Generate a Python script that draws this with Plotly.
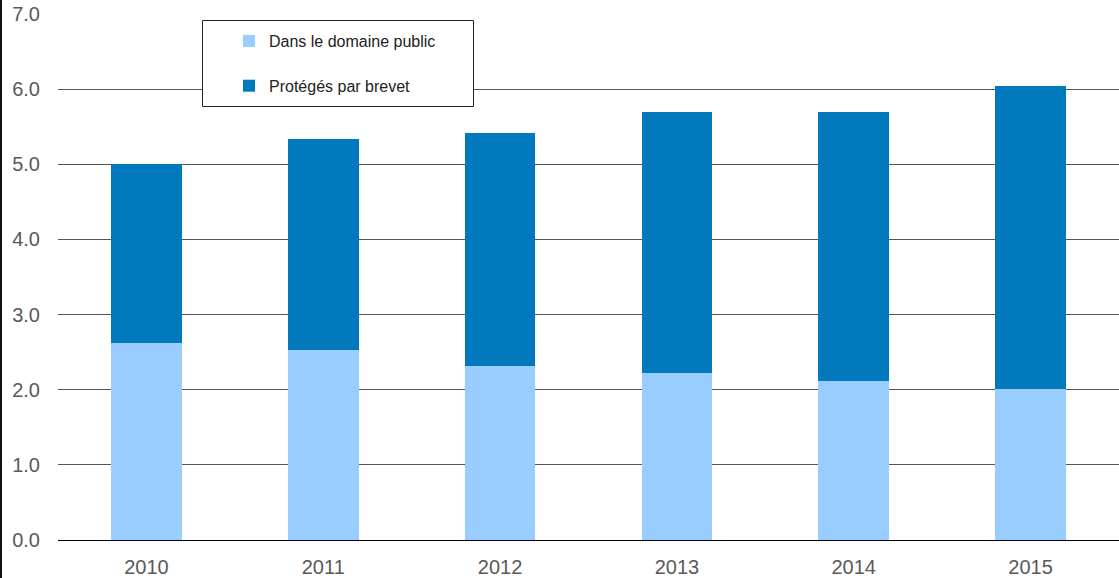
import plotly.graph_objects as go

# Data (billions) by year
years = ["2010", "2011", "2012", "2013", "2014", "2015"]
public_domain = [2.62, 2.53, 2.32, 2.22, 2.11, 2.01]
patented = [2.38, 2.80, 3.09, 3.48, 3.58, 4.03]
y_ticks = [0, 1, 2, 3, 4, 5, 6, 7]
y_tick_text = ["0.0", "1.0", "2.0", "3.0", "4.0", "5.0", "6.0", "7.0"]

W, H = 1119, 578
ML, MR, MT, MB = 58, 0, 14, 38
PW = W - ML - MR
PH = H - MT - MB

FONT = "Liberation Sans, Arial, sans-serif"
LIGHT = "#99CCFF"
DARK = "#0278BD"

fig = go.Figure()
fig.add_trace(go.Bar(x=years, y=public_domain, name="Dans le domaine public",
                     marker=dict(color=LIGHT, line=dict(width=0)), legendgroup="a"))
fig.add_trace(go.Bar(x=years, y=patented, name="Protégés par brevet",
                     marker=dict(color=DARK, line=dict(width=0)), legendgroup="b"))


def px_x(px):
    return (px - ML) / PW


def px_y(py):
    return 1 - (py - MT) / PH


shapes = [
    # legend frame
    dict(type="rect", xref="paper", yref="paper",
         x0=px_x(202.5), x1=px_x(473.5), y0=px_y(106.5), y1=px_y(20.5),
         line=dict(color="#222222", width=1), fillcolor="white", layer="above"),
    # left page rule
    dict(type="line", xref="paper", yref="paper",
         x0=px_x(1), x1=px_x(1), y0=px_y(H), y1=px_y(0),
         line=dict(color="#111111", width=2), layer="above"),
]

fig.update_layout(
    width=W, height=H,
    margin=dict(l=ML, r=MR, t=MT, b=MB, pad=0),
    barmode="stack", bargap=0.6,
    plot_bgcolor="white", paper_bgcolor="white",
    font=dict(family=FONT, color="#595959"),
    shapes=shapes,
    showlegend=True,
    legend=dict(
        x=px_x(229), y=px_y(24), xanchor="left", yanchor="top",
        bgcolor="rgba(0,0,0,0)", borderwidth=0,
        font=dict(family=FONT, size=16, color="#222222"),
        traceorder="grouped", tracegroupgap=21,
    ),
    xaxis=dict(
        showgrid=False, showline=False, zeroline=False,
        tickfont=dict(size=20, color="#595959"), ticks="",
        ticklabelstandoff=13,
    ),
    yaxis=dict(
        range=[0, 7], tickvals=y_ticks, ticktext=y_tick_text,
        showgrid=True, gridcolor="#555555", gridwidth=1,
        zeroline=True, zerolinecolor="#000000", zerolinewidth=1,
        showline=False, ticks="",
        tickfont=dict(size=20, color="#595959"),
        ticklabelstandoff=17,
    ),
)

fig.write_html("out.html")
